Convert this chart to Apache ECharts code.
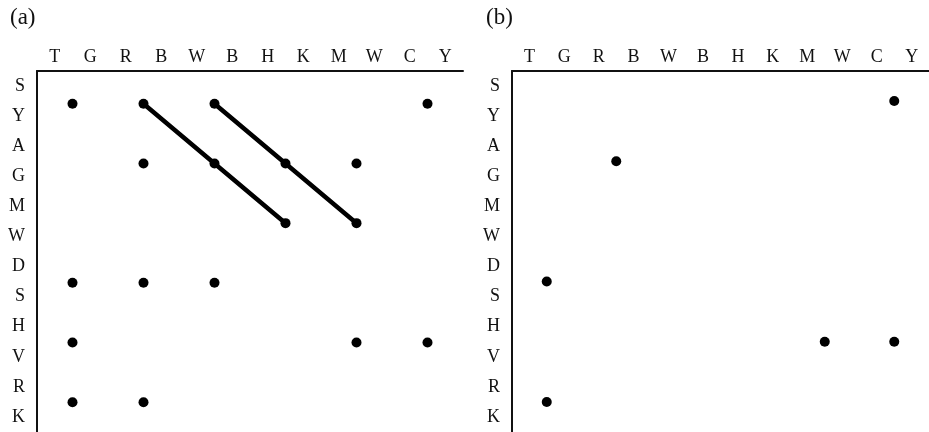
<!DOCTYPE html>
<html>
<head>
<meta charset="utf-8">
<script src="https://cdn.jsdelivr.net/npm/echarts@6/dist/echarts.min.js"></script>
<style>
html,body{margin:0;padding:0;background:#fff;}
#chart{width:929px;height:432px;}
</style>
</head>
<body>
<div id="chart"></div>
<script>
// Data
var xLabels = ['T','G','R','B','W','B','H','K','M','W','C','Y'];
var yLabels = ['S','Y','A','G','M','W','D','S','H','V','R','K'];
var panelTitles = ['(a)', '(b)'];
// dots: [column pair index, row pair index]
var dotsA = [[0,0],[1,0],[2,0],[5,0],[1,1],[2,1],[3,1],[4,1],[3,2],[4,2],[0,3],[1,3],[2,3],[0,4],[4,4],[5,4],[0,5],[1,5]];
var linesA = [[[1,0],[2,1],[3,2]], [[2,0],[3,1],[4,2]]];
var dotsB = [[5,0],[1,1],[0,3],[4,4],[5,4],[0,5]];
var linesB = [];

var FONT = '"Liberation Serif","DejaVu Serif",serif';
var INK = '#111';

var grids = [
  {left: 37, top: 71, width: 426, height: 368},
  {left: 512, top: 71, width: 423, height: 364}
];
var rowMin = [-0.55, -0.5];

var xAxes = [], yAxes = [], series = [];
grids.forEach(function(g, gi){
  xAxes.push({
    type: 'category', gridIndex: gi, position: 'top', data: xLabels,
    axisLine: {show: true, onZero: false, lineStyle: {color: INK, width: 2}},
    axisTick: {show: false}, splitLine: {show: false},
    axisLabel: {fontFamily: FONT, fontSize: 18, color: INK, margin: 5, interval: 0}
  });
  xAxes.push({
    type: 'value', gridIndex: gi, min: -0.5, max: 5.5, show: false,
    axisLine: {onZero: false}, splitLine: {show: false}
  });
  yAxes.push({
    type: 'category', gridIndex: gi, inverse: true, data: yLabels,
    axisLine: {show: true, onZero: false, lineStyle: {color: INK, width: 2}},
    axisTick: {show: false}, splitLine: {show: false},
    axisLabel: {fontFamily: FONT, fontSize: 18, color: INK, margin: 12, interval: 0, padding: [4, 0, 0, 0]}
  });
  yAxes.push({
    type: 'value', gridIndex: gi, inverse: true, min: rowMin[gi], max: 5.5, show: false,
    axisLine: {onZero: false}, splitLine: {show: false}
  });
});

function addPanel(gi, dots, lines){
  lines.forEach(function(l){
    series.push({
      type: 'line', xAxisIndex: gi*2+1, yAxisIndex: gi*2+1,
      data: l, symbol: 'none', silent: true,
      lineStyle: {color: '#000', width: 4.5, cap: 'round', opacity: 1},
      animation: false
    });
  });
  series.push({
    type: 'scatter', xAxisIndex: gi*2+1, yAxisIndex: gi*2+1,
    data: dots, symbol: 'circle', symbolSize: 10,
    itemStyle: {color: '#000', opacity: 1}, animation: false
  });
}
addPanel(0, dotsA, linesA);
addPanel(1, dotsB, linesB);

var chart = echarts.init(document.getElementById('chart'));
chart.setOption({
  backgroundColor: '#fff',
  animation: false,
  title: [
    {text: panelTitles[0], left: 5, top: 1, textStyle: {fontFamily: FONT, fontSize: 23, fontWeight: 'normal', color: INK}},
    {text: panelTitles[1], left: 481, top: 1, textStyle: {fontFamily: FONT, fontSize: 23, fontWeight: 'normal', color: INK}}
  ],
  grid: grids,
  xAxis: xAxes,
  yAxis: yAxes,
  series: series
});
</script>
</body>
</html>
